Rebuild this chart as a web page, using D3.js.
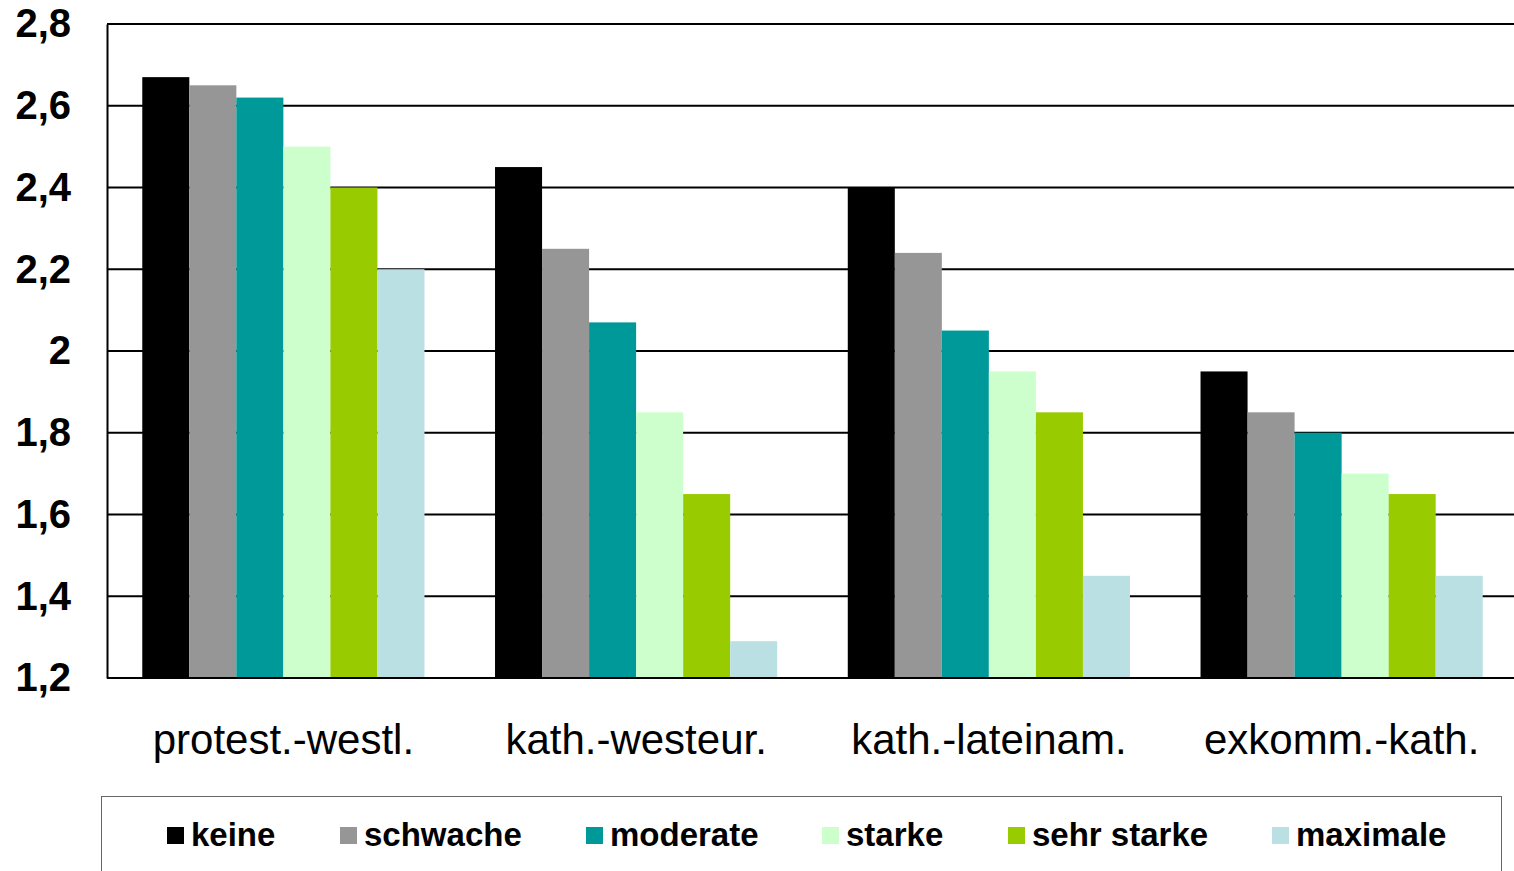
<!DOCTYPE html>
<html>
<head>
<meta charset="utf-8">
<script src="https://cdn.jsdelivr.net/npm/d3@7"></script>
<style>
  html, body { margin: 0; padding: 0; background: #fff; }
  svg { display: block; font-family: "Liberation Sans", Arial, sans-serif; }
</style>
</head>
<body>
<svg width="1514" height="871"></svg>
<script>
// ---- Daten
const categories = ['protest.-westl.', 'kath.-westeur.', 'kath.-lateinam.', 'exkomm.-kath.'];
const seriesNames = ['keine', 'schwache', 'moderate', 'starke', 'sehr starke', 'maximale'];
const seriesColors = ['#000000', '#969696', '#009999', '#CCFFCC', '#99CC00', '#BBE0E3'];
const keine      = [2.67, 2.45, 2.40, 1.95];
const schwache   = [2.65, 2.25, 2.24, 1.85];
const moderate   = [2.62, 2.07, 2.05, 1.80];
const starke     = [2.50, 1.85, 1.95, 1.70];
const sehrStarke = [2.40, 1.65, 1.85, 1.65];
const maximale   = [2.20, 1.29, 1.45, 1.45];
const yTicks = [1.2, 1.4, 1.6, 1.8, 2.0, 2.2, 2.4, 2.6, 2.8];

const seriesValues = [keine, schwache, moderate, starke, sehrStarke, maximale];

const svg = d3.select('svg');
// rechter Rand liegt etwas außerhalb des Bildes (abgeschnitten wie im Original)
const margens = { left: 107, right: -4, top: 24, bottom: 193 };
const width = 1514, height = 871;
const innerWidth = width - margens.left - margens.right;
const innerHeight = height - margens.top - margens.bottom;

const g = svg.append('g').attr('transform', `translate(${margens.left},${margens.top})`);

// ---- Skalen
const x0 = d3.scaleBand().domain(categories).range([0, innerWidth]).paddingInner(0.2).paddingOuter(0.1);
const x1 = d3.scaleBand().domain(seriesNames).range([0, x0.bandwidth()]);
const y = d3.scaleLinear().domain([1.2, 2.8]).range([innerHeight, 0]);
const fmt = d => d3.format('.1f')(d).replace('.', ',').replace(/,0$/, '');

// ---- Gitterlinien
g.append('g')
  .selectAll('line')
  .data(yTicks)
  .join('line')
  .attr('x1', 0).attr('x2', innerWidth)
  .attr('y1', d => y(d)).attr('y2', d => y(d))
  .attr('stroke', '#000').attr('stroke-width', 2);

// ---- Balken
const groups = g.append('g')
  .selectAll('g')
  .data(categories)
  .join('g')
  .attr('transform', d => `translate(${x0(d)},0)`);

groups.selectAll('rect')
  .data((c, ci) => seriesNames.map((s, si) => ({ s, si, v: seriesValues[si][ci] })))
  .join('rect')
  .attr('x', d => x1(d.s))
  .attr('width', x1.bandwidth())
  .attr('y', d => y(d.v))
  .attr('height', d => y(1.2) - y(d.v))
  .attr('fill', d => seriesColors[d.si]);

// ---- Achsen
const yAxis = d3.axisLeft(y).tickValues(yTicks).tickFormat(fmt).tickSize(0).tickPadding(36);
const gy = g.append('g').call(yAxis);
gy.select('.domain').attr('stroke', '#000').attr('stroke-width', 2);
gy.selectAll('text')
  .attr('font-size', 40).attr('font-weight', 'bold').attr('fill', '#000')
  .attr('font-family', '"Liberation Sans", Arial, sans-serif');

g.append('line')
  .attr('x1', 0).attr('x2', innerWidth)
  .attr('y1', innerHeight).attr('y2', innerHeight)
  .attr('stroke', '#000').attr('stroke-width', 2);

const xAxis = d3.axisBottom(x0).tickSize(0).tickPadding(46);
const gx = g.append('g').attr('transform', `translate(0,${innerHeight})`).call(xAxis);
gx.select('.domain').remove();
gx.selectAll('text')
  .attr('font-size', 42).attr('fill', '#000')
  .attr('font-family', '"Liberation Sans", Arial, sans-serif');

// ---- Legende
svg.append('rect')
  .attr('x', 101.5).attr('y', 796.5)
  .attr('width', 1400).attr('height', 120)
  .attr('fill', '#fff').attr('stroke', '#666').attr('stroke-width', 1);

const legendX = [167, 340, 586, 822, 1008, 1272];
const leg = svg.append('g')
  .selectAll('g')
  .data(seriesNames)
  .join('g')
  .attr('transform', (d, i) => `translate(${legendX[i]},827)`);

leg.append('rect')
  .attr('width', 17).attr('height', 17)
  .attr('fill', (d, i) => seriesColors[i]);

leg.append('text')
  .attr('x', 24).attr('y', 19)
  .attr('font-size', 33).attr('font-weight', 'bold')
  .text(d => d);
</script>
</body>
</html>
